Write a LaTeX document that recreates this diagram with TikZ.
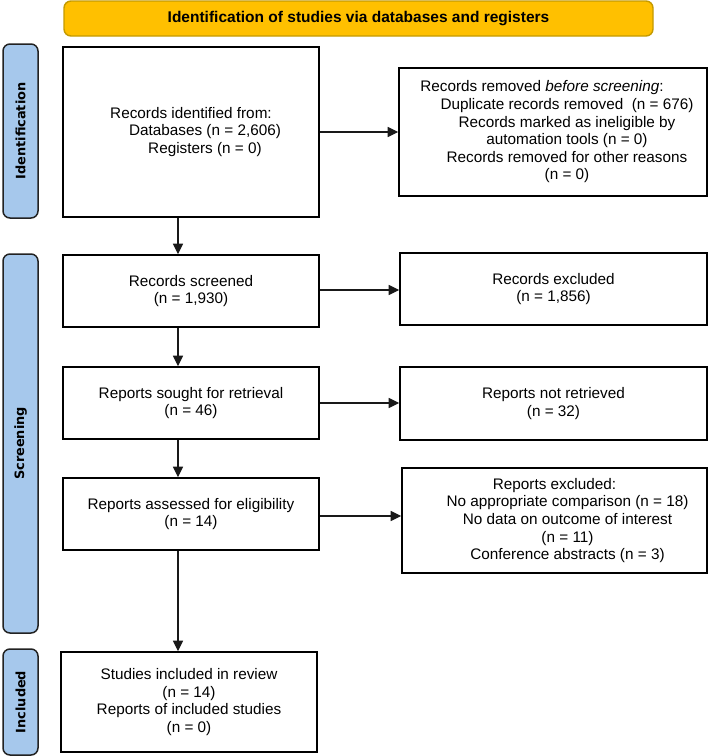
\documentclass[tikz,border=0pt]{standalone}
\usepackage{fontspec}
\setmainfont{Liberation Sans}
\newfontfamily\sidefont{DejaVu Sans}
\usetikzlibrary{arrows.meta}
\definecolor{hdrfill}{HTML}{FFC000}
\definecolor{hdrline}{HTML}{C49A00}
\definecolor{barfill}{HTML}{A6C8EC}
\definecolor{barline}{HTML}{222222}
\newcommand{\sh}[1]{\rule{#1}{0pt}}
\tikzset{
  box/.style={draw=black, line width=1.6pt, fill=white, inner sep=0pt, align=center,
    font=\fontsize{15.3}{17.6}\selectfont},
  header/.style={draw=hdrline, line width=1.4pt, fill=hdrfill, rounded corners=7pt,
    inner sep=0pt, font=\fontsize{15.5}{17}\selectfont\bfseries},
  sidebar/.style={draw=barline, line width=1.5pt, fill=barfill, rounded corners=7pt,
    inner sep=0pt, rotate=90, font=\sidefont\fontsize{12.9}{15}\selectfont\bfseries},
  flow/.style={draw=black!90, line width=1.2pt, -{Triangle[length=10.5pt,width=10pt]}}
}
\begin{document}
\begin{tikzpicture}[x=1pt,y=-1pt]
\useasboundingbox (0,0) rectangle (708,756);
% header
\node[header, minimum width=589, minimum height=35] (hdr) at (358.5,18.5)
  {Identification of studies via databases and registers};
% side bars
\node[sidebar, minimum width=174, minimum height=35] (idbar) at (20.5,131) {Identification};
\node[sidebar, minimum width=379, minimum height=35] (scbar) at (20.5,443.5) {Screening};
\node[sidebar, minimum width=106, minimum height=35] (inbar) at (20.5,702) {Included};
% left column
\node[box, minimum width=256, minimum height=170] (ident) at (191,132)
  {Records identified from:\\ \sh{28pt}Databases (n = 2,606)\\ \sh{28pt}Registers (n = 0)};
\node[box, minimum width=256, minimum height=72] (screened) at (191,291)
  {Records screened\\(n = 1,930)};
\node[box, minimum width=256, minimum height=72] (sought) at (191,403)
  {Reports sought for retrieval\\(n = 46)};
\node[box, minimum width=256, minimum height=72] (assessed) at (191,514)
  {Reports assessed for eligibility\\(n = 14)};
\node[box, minimum width=256, minimum height=100] (included) at (189,702)
  {Studies included in review\\(n = 14)\\Reports of included studies\\(n = 0)};
% right column
\node[box, minimum width=308, minimum height=128] (removed) at (553,132)
  {Records removed \textit{before screening}:\sh{22pt}\\
   \sh{28pt}Duplicate records removed\ \ (n = 676)\\
   \sh{28pt}Records marked as ineligible by\\
   \sh{28pt}automation tools (n = 0)\\
   \sh{28pt}Records removed for other reasons\\
   \sh{28pt}(n = 0)};
\node[box, minimum width=307, minimum height=72] (recexcl) at (553.5,289)
  {Records excluded\\(n = 1,856)};
\node[box, minimum width=307, minimum height=73] (notret) at (553.5,403.5)
  {Reports not retrieved\\(n = 32)};
\node[box, minimum width=305, minimum height=105] (repexcl) at (554.5,520.5)
  {Reports excluded:\\
   \sh{26pt}No appropriate comparison (n = 18)\\
   \sh{26pt}No data on outcome of interest\\
   \sh{26pt}(n = 11)\\
   \sh{26pt}Conference abstracts (n = 3)};
% arrow column
\coordinate (ax) at (178,0);
\draw[flow] (ident.south -| ax) -- (screened.north -| ax);
\draw[flow] (screened.south -| ax) -- (sought.north -| ax);
\draw[flow] (sought.south -| ax) -- (assessed.north -| ax);
\draw[flow] (assessed.south -| ax) -- (included.north -| ax);
% horizontal arrows
\draw[flow] (ident.east) -- (ident.east -| removed.west);
\draw[flow] ([yshift=1pt]screened.east) -- ([yshift=1pt]screened.east -| recexcl.west);
\draw[flow] (sought.east) -- (sought.east -| notret.west);
\draw[flow] ([yshift=-2pt]assessed.east) -- ([yshift=-2pt]assessed.east -| repexcl.west);
\end{tikzpicture}
\end{document}
